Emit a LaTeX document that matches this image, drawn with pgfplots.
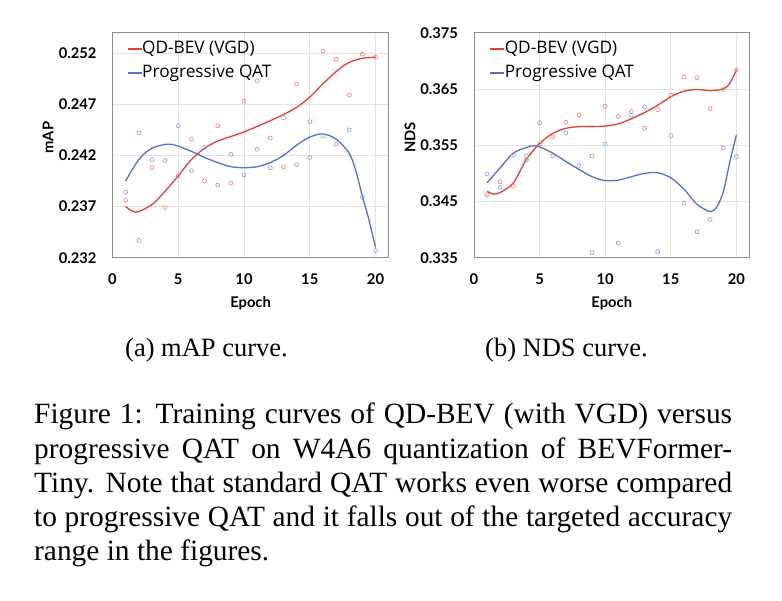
\documentclass[border=0pt]{standalone}
\usepackage{fontspec}
\setmainfont{Liberation Serif}
\newfontfamily\lato{Lato}
\newfontfamily\opensans{Open Sans}
\usepackage{pgfplots}
\pgfplotsset{compat=1.18}

\definecolor{qdred}{RGB}{224,64,56}
\definecolor{qdredlt}{RGB}{236,125,120}
\definecolor{pqblue}{RGB}{88,112,196}
\definecolor{pqbluelt}{RGB}{140,155,215}
\definecolor{framegray}{RGB}{140,140,140}
\definecolor{gridgray}{RGB}{226,226,226}

\pgfplotsset{
  curvefig/.style={
    scale only axis, height=225bp,
    xmin=0, xmax=21, xtick={0,5,10,15,20},
    axis line style={draw=framegray, line width=1bp},
    grid=major, major grid style={gridgray, line width=0.6bp},
    major tick length=0pt,
    /pgf/number format/assume math mode=true,
    tick label style={font=\lato\bfseries\fontsize{14.8}{16}\selectfont},
    xticklabel style={anchor=base, yshift=-26.6bp},
    yticklabel style={anchor=east, inner sep=0pt, xshift=-15.8bp,
      /pgf/number format/.cd, fixed, fixed zerofill, precision=3, /tikz/.cd},
    scaled y ticks=false,
    label style={font=\lato\bfseries\fontsize{14.8}{16}\selectfont},
    xlabel={Epoch},
    xlabel style={at={(axis description cs:0.5,0)}, anchor=base, yshift=-49.6bp, inner sep=0pt},
    legend style={draw=none, fill=none, anchor=north west, inner sep=0pt,
      font=\opensans\fontsize{17.3}{20}\selectfont, row sep=7bp,
      nodes={inner sep=0pt, text height=13bp, text depth=4bp},
      /tikz/every even column/.append style={column sep=1bp}},
    legend cell align=left,
    legend image code/.code={\draw[#1, line width=1.3bp] (0bp,0bp) -- (14bp,0bp);},
  },
  dots/.style={only marks, mark=o, mark size=2bp, mark options={line width=0.6bp}, forget plot},
  fit/.style={line width=1.3bp, smooth, no marks},
}

\begin{document}
\begin{tikzpicture}
\path[use as bounding box] (0,0) rectangle (782bp,601bp);

% (a) mAP
\begin{axis}[curvefig, at={(112.5bp,343.3bp)}, anchor=south west, width=276.2bp,
  ymin=0.232, ymax=0.254, ytick={0.232,0.237,0.242,0.247,0.252},
  ylabel={mAP},
  ylabel style={at={(axis description cs:-0.2335,0.534)}, anchor=center, inner sep=0pt},
  legend style={at={(axis description cs:0.0514,0.966)}}]
\addplot[dots, qdredlt] table {
x y
1 0.2376
2 0.2337
3 0.2408
4 0.2369
5 0.2400
6 0.2436
7 0.2395
8 0.2449
9 0.2393
10 0.2473
11 0.2493
12 0.2437
13 0.2409
14 0.2490
15 0.2453
16 0.2522
17 0.2514
18 0.2479
19 0.2519
20 0.2516
};
\addplot[dots, pqbluelt] table {
x y
1 0.2384
2 0.2442
3 0.2416
4 0.2415
5 0.2449
6 0.2405
7 0.2428
8 0.2391
9 0.2421
10 0.2401
11 0.2426
12 0.2408
13 0.2457
14 0.2411
15 0.2418
16 0.2439
17 0.2431
18 0.2445
19 0.2379
20 0.2327
};
\addplot[fit, qdred] table {
x y
1 0.2370
1.8 0.23645
3 0.2372
4 0.2385
5 0.2400
6 0.2416
7 0.2427
8 0.2434
10 0.2443
12 0.2454
13 0.2460
14 0.2467
15 0.2477
16 0.2490
17 0.2502
18 0.2511
19 0.2515
20 0.2516
};
\addlegendentry{QD-BEV (VGD)}
\addplot[fit, pqblue] table {
x y
1 0.2395
2 0.2416
3 0.2427
4.4 0.2431
6 0.2424
7 0.2418
8 0.2413
9 0.2409
10 0.2408
11 0.2409
12 0.2413
13 0.2420
14 0.2430
15 0.2438
16 0.2441
17 0.2436
18 0.2422
18.5 0.2405
19 0.2380
19.5 0.2357
20 0.2330
};
\addlegendentry{Progressive QAT}
\end{axis}

% (b) NDS
\begin{axis}[curvefig, at={(474bp,343.3bp)}, anchor=south west, width=275.5bp,
  ymin=0.335, ymax=0.375, ytick={0.335,0.345,0.355,0.365,0.375},
  ylabel={NDS},
  ylabel style={at={(axis description cs:-0.2325,0.534)}, anchor=center, inner sep=0pt},
  legend style={at={(axis description cs:0.0556,0.966)}}]
\addplot[dots, qdredlt] table {
x y
1 0.3462
2 0.3485
3 0.3477
4 0.3531
5 0.3552
6 0.3565
7 0.3591
8 0.3604
9 0.3531
10 0.3619
11 0.3601
12 0.3610
13 0.3580
14 0.3613
15 0.3639
16 0.3671
17 0.3670
18 0.3615
19 0.3649
20 0.3684
};
\addplot[dots, pqbluelt] table {
x y
1 0.3499
2 0.3475
3 0.3533
4 0.3524
5 0.3590
6 0.3531
7 0.3572
8 0.3514
9 0.3359
10 0.3552
11 0.3376
12 0.3603
13 0.3618
14 0.3361
15 0.3567
16 0.3447
17 0.3396
18 0.3418
19 0.3545
20 0.3530
};
\addplot[fit, qdred] table {
x y
1 0.3468
1.5 0.3463
2 0.3466
3 0.3483
4 0.3525
5 0.3553
6 0.3571
7 0.3580
8 0.3583
9 0.3583
10 0.3584
11 0.3588
12 0.3597
13 0.3608
14 0.3621
15 0.3636
16 0.3646
17 0.3649
18 0.3647
19 0.3650
19.5 0.3660
20 0.3684
};
\addlegendentry{QD-BEV (VGD)}
\addplot[fit, pqblue] table {
x y
1 0.3483
2 0.3510
3 0.3536
4 0.3546
4.5 0.3549
5 0.3547
6 0.3536
7 0.3521
8 0.3507
9 0.3494
10 0.3487
11 0.3488
12 0.3494
13 0.3500
14 0.3501
15 0.3492
16 0.3472
17 0.3445
18 0.3432
18.5 0.3440
19 0.3467
19.5 0.3520
20 0.3568
};
\addlegendentry{Progressive QAT}
\end{axis}

% sub-captions
\node[anchor=base, inner sep=0pt] at (206.5bp,244bp) {\fontsize{26.6}{30}\selectfont (a) mAP curve.};
\node[anchor=base, inner sep=0pt] at (566.5bp,244bp) {\fontsize{26.6}{30}\selectfont (b) NDS curve.};

% figure caption
\begin{scope}[every node/.style={anchor=base west, inner sep=0pt, font=\fontsize{29.5}{34}\selectfont}]
\node at (34bp,177bp) {\makebox[698bp][s]{Figure 1: Training curves of QD-BEV (with VGD) versus}};
\node at (34bp,142.8bp) {\makebox[698bp][s]{progressive QAT on W4A6 quantization of BEVFormer-}};
\node at (34bp,108.6bp) {\makebox[698bp][s]{Tiny. Note that standard QAT works even worse compared}};
\node at (34bp,74.4bp) {\makebox[698bp][s]{to progressive QAT and it falls out of the targeted accuracy}};
\node at (34bp,40.2bp) {range in the figures.};
\end{scope}
\end{tikzpicture}
\end{document}
